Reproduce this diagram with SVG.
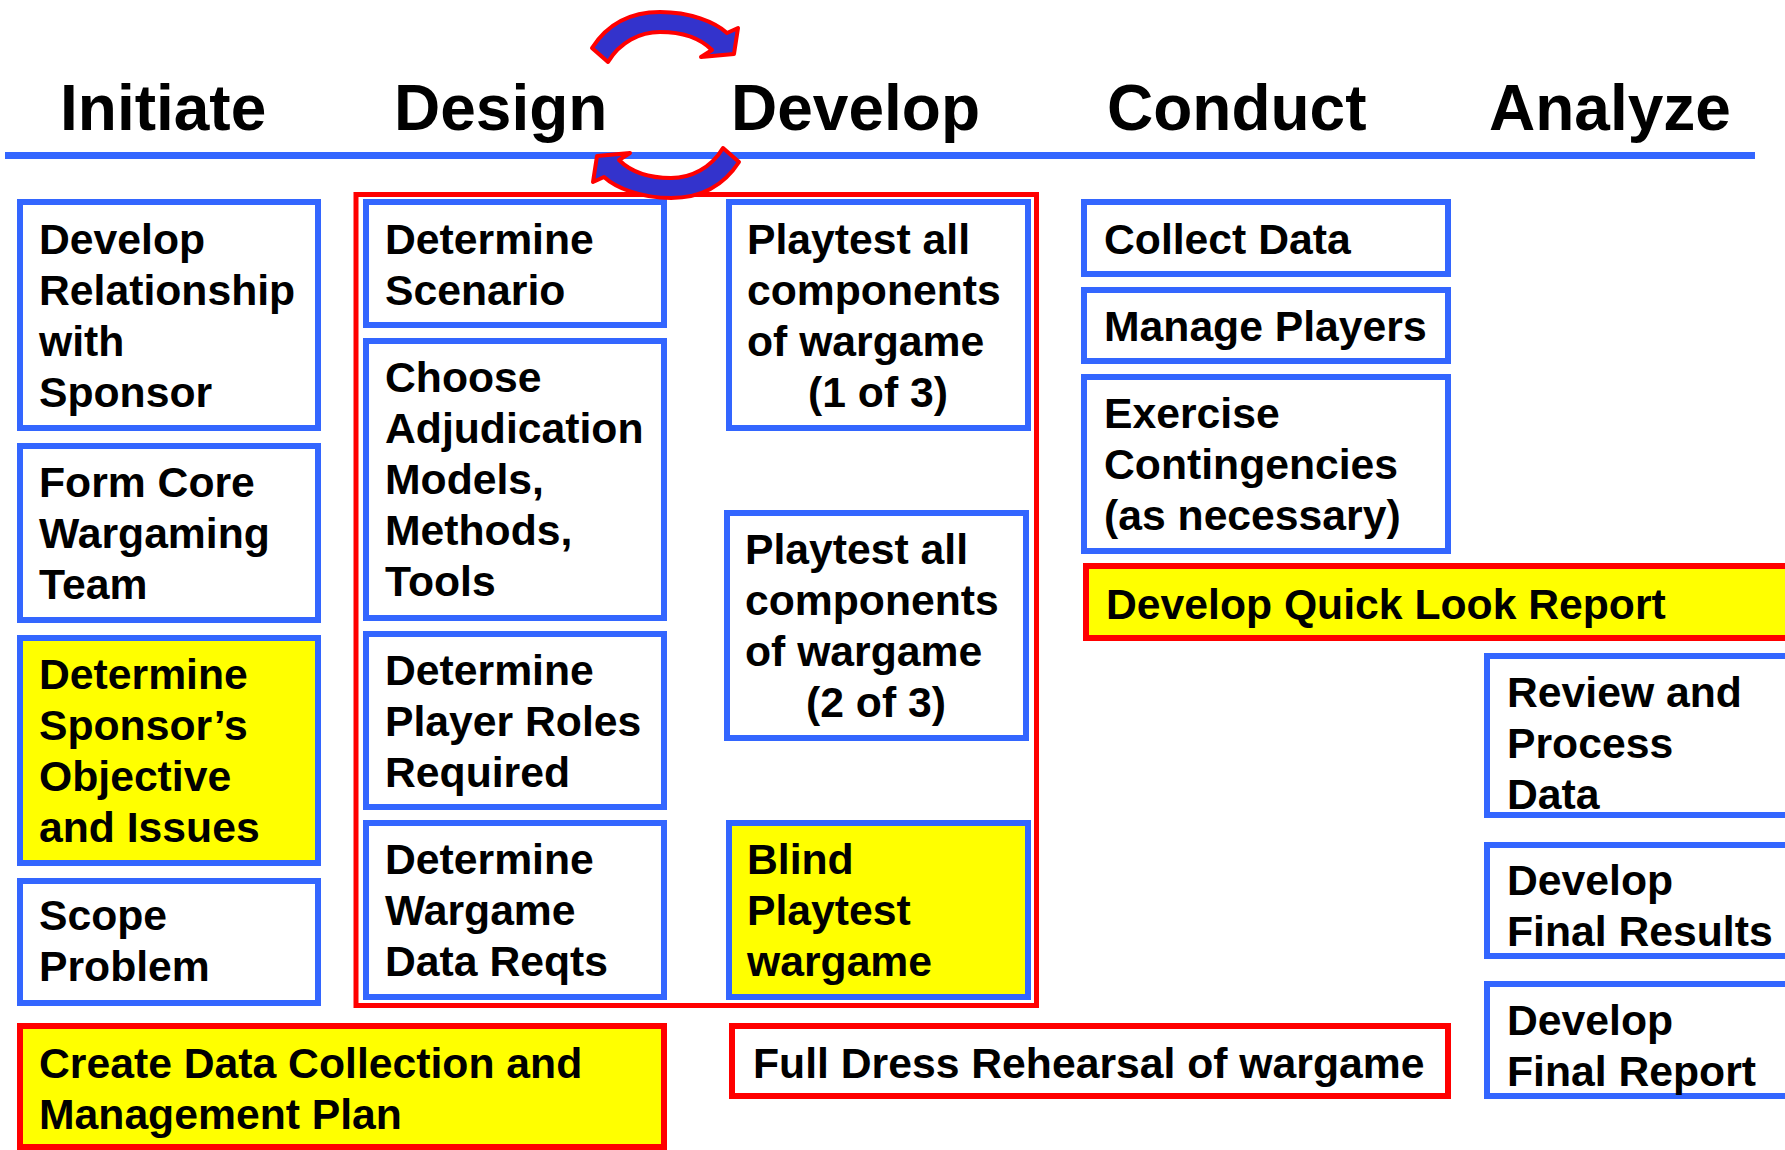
<svg xmlns="http://www.w3.org/2000/svg" width="1785" height="1150" viewBox="0 0 1785 1150">
  <style>
    .hdr { font-family: "Liberation Sans", Arial, sans-serif; font-weight: bold; font-size: 64px; fill: #000; }
    .t { font-family: "Liberation Sans", Arial, sans-serif; font-weight: bold; font-size: 42.7px; fill: #000; }
    .mid { text-anchor: middle; }
    .box { fill: #FFFFFF; stroke: #3366FF; stroke-width: 6; }
    .box.hi { fill: #FFFF00; }
    .rbox { fill: #FFFFFF; stroke: #FF0000; stroke-width: 6; }
    .rbox.hi { fill: #FFFF00; }
    .frame { fill: none; stroke: #FF0000; stroke-width: 5; }
    .rule { stroke: #3366FF; stroke-width: 7; }
    .cyc { fill: #3333CC; stroke: #FF0000; stroke-width: 4; stroke-linejoin: round; }
  </style>
  <defs>
    <path id="cycle-arrow" d="M 592 48 C 610 20, 635 12, 660 12 C 690 12, 715 22, 727 33 L 738 28 L 734 54 L 701 57 L 712 50 C 700 38, 682 32, 660 32 C 640 32, 620 42, 608 62 Z"/>
  </defs>
  <rect width="1785" height="1150" fill="#FFFFFF"/>

  <!-- phase headings -->
  <g id="phases">
    <text class="hdr" x="60" y="130">Initiate</text>
    <text class="hdr" x="394" y="130">Design</text>
    <text class="hdr" x="731" y="130">Develop</text>
    <text class="hdr" x="1107" y="130">Conduct</text>
    <text class="hdr" x="1489" y="130">Analyze</text>
    <line class="rule" x1="5" y1="155.5" x2="1755" y2="155.5"/>
  </g>

  <!-- frame around the Design / Develop iteration -->
  <rect id="design-develop-frame" class="frame" x="356" y="194.5" width="680.5" height="811"/>

  <!-- Initiate column -->
  <g id="develop-relationship">
    <rect class="box" x="20" y="202" width="298" height="226"/>
    <text class="t" x="39" y="254">Develop</text>
    <text class="t" x="39" y="305">Relationship</text>
    <text class="t" x="39" y="356">with</text>
    <text class="t" x="39" y="407">Sponsor</text>
  </g>
  <g id="form-core-team">
    <rect class="box" x="20" y="446" width="298" height="174"/>
    <text class="t" x="39" y="497">Form Core</text>
    <text class="t" x="39" y="548">Wargaming</text>
    <text class="t" x="39" y="599">Team</text>
  </g>
  <g id="sponsor-objective">
    <rect class="box hi" x="20" y="638" width="298" height="225"/>
    <text class="t" x="39" y="689">Determine</text>
    <text class="t" x="39" y="740">Sponsor’s</text>
    <text class="t" x="39" y="791">Objective</text>
    <text class="t" x="39" y="842">and Issues</text>
  </g>
  <g id="scope-problem">
    <rect class="box" x="20" y="881" width="298" height="122"/>
    <text class="t" x="39" y="930">Scope</text>
    <text class="t" x="39" y="981">Problem</text>
  </g>
  <g id="data-collection-plan">
    <rect class="rbox hi" x="20" y="1026" width="644" height="121"/>
    <text class="t" x="39" y="1078">Create Data Collection and</text>
    <text class="t" x="39" y="1129">Management Plan</text>
  </g>

  <!-- Design column -->
  <g id="determine-scenario">
    <rect class="box" x="366" y="202" width="298" height="123"/>
    <text class="t" x="385" y="254">Determine</text>
    <text class="t" x="385" y="305">Scenario</text>
  </g>
  <g id="adjudication-models">
    <rect class="box" x="366" y="341" width="298" height="277"/>
    <text class="t" x="385" y="392">Choose</text>
    <text class="t" x="385" y="443">Adjudication</text>
    <text class="t" x="385" y="494">Models,</text>
    <text class="t" x="385" y="545">Methods,</text>
    <text class="t" x="385" y="596">Tools</text>
  </g>
  <g id="player-roles">
    <rect class="box" x="366" y="634" width="298" height="173"/>
    <text class="t" x="385" y="685">Determine</text>
    <text class="t" x="385" y="736">Player Roles</text>
    <text class="t" x="385" y="787">Required</text>
  </g>
  <g id="data-reqts">
    <rect class="box" x="366" y="823" width="298" height="174"/>
    <text class="t" x="385" y="874">Determine</text>
    <text class="t" x="385" y="925">Wargame</text>
    <text class="t" x="385" y="976">Data Reqts</text>
  </g>

  <!-- Develop column -->
  <g id="playtest-1">
    <rect class="box" x="729" y="202" width="299" height="226"/>
    <text class="t" x="747" y="254">Playtest all</text>
    <text class="t" x="747" y="305">components</text>
    <text class="t" x="747" y="356">of wargame</text>
    <text class="t mid" x="878" y="407">(1 of 3)</text>
  </g>
  <g id="playtest-2">
    <rect class="box" x="727" y="513" width="299" height="225"/>
    <text class="t" x="745" y="564">Playtest all</text>
    <text class="t" x="745" y="615">components</text>
    <text class="t" x="745" y="666">of wargame</text>
    <text class="t mid" x="876" y="717">(2 of 3)</text>
  </g>
  <g id="blind-playtest">
    <rect class="box hi" x="729" y="823" width="299" height="174"/>
    <text class="t" x="747" y="874">Blind</text>
    <text class="t" x="747" y="925">Playtest</text>
    <text class="t" x="747" y="976">wargame</text>
  </g>
  <g id="full-dress-rehearsal">
    <rect class="rbox" x="732" y="1026" width="716" height="70"/>
    <text class="t" x="753" y="1078">Full Dress Rehearsal of wargame</text>
  </g>

  <!-- Conduct column -->
  <g id="collect-data">
    <rect class="box" x="1084" y="202" width="364" height="72"/>
    <text class="t" x="1104" y="254">Collect Data</text>
  </g>
  <g id="manage-players">
    <rect class="box" x="1084" y="290" width="364" height="71"/>
    <text class="t" x="1104" y="341">Manage Players</text>
  </g>
  <g id="exercise-contingencies">
    <rect class="box" x="1084" y="377" width="364" height="174"/>
    <text class="t" x="1104" y="428">Exercise</text>
    <text class="t" x="1104" y="479">Contingencies</text>
    <text class="t" x="1104" y="530">(as necessary)</text>
  </g>
  <g id="quick-look-report">
    <rect class="rbox hi" x="1086" y="566" width="760" height="72"/>
    <text class="t" x="1106" y="619">Develop Quick Look Report</text>
  </g>

  <!-- Analyze column -->
  <g id="review-data">
    <rect class="box" x="1487" y="656" width="400" height="159"/>
    <text class="t" x="1507" y="707">Review and</text>
    <text class="t" x="1507" y="758">Process</text>
    <text class="t" x="1507" y="809">Data</text>
  </g>
  <g id="final-results">
    <rect class="box" x="1487" y="845" width="400" height="111"/>
    <text class="t" x="1507" y="895">Develop</text>
    <text class="t" x="1507" y="946">Final Results</text>
  </g>
  <g id="final-report">
    <rect class="box" x="1487" y="984" width="400" height="112"/>
    <text class="t" x="1507" y="1035">Develop</text>
    <text class="t" x="1507" y="1086">Final Report</text>
  </g>

  <!-- iteration arrows between Design and Develop -->
  <g id="connectors">
    <use href="#cycle-arrow" class="cyc"/>
    <use href="#cycle-arrow" class="cyc" transform="rotate(180 665.5 105)"/>
  </g>
</svg>
